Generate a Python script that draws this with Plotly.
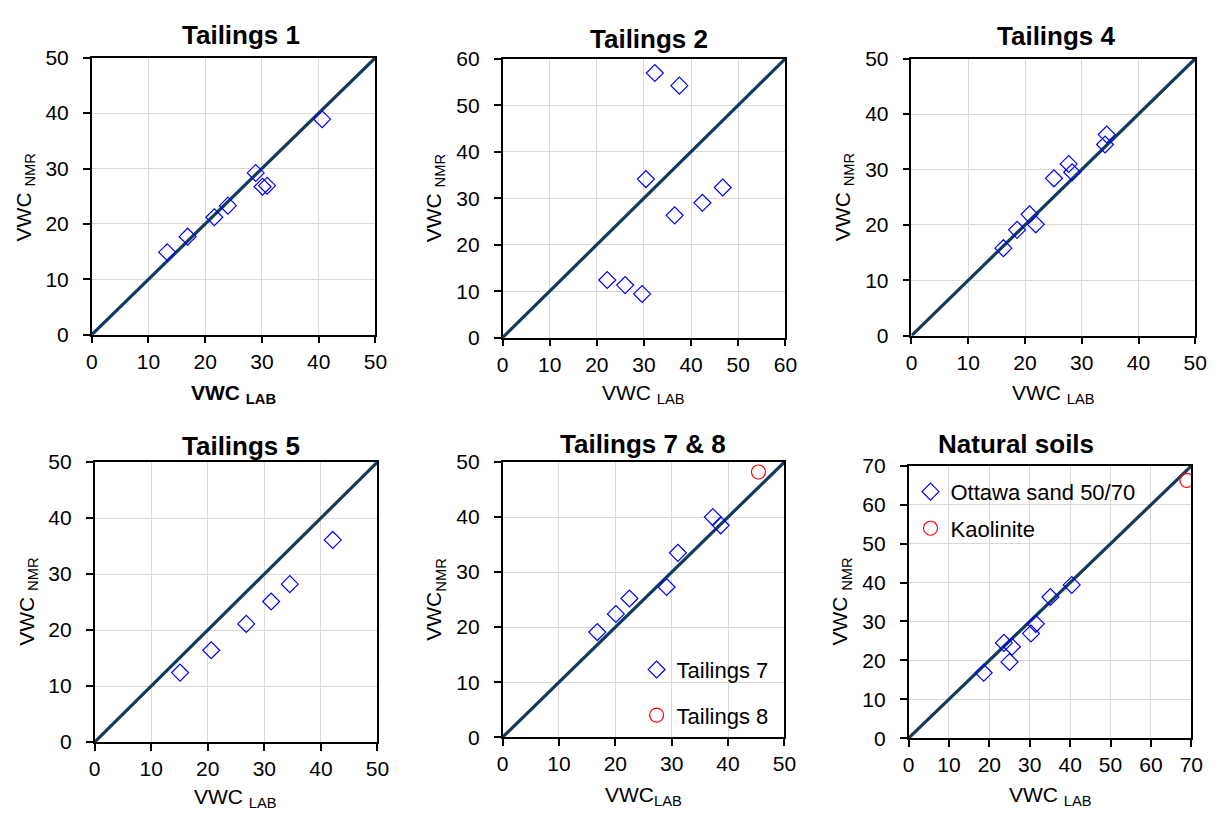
import plotly.graph_objects as go

# ---------------- data ----------------
t1_lab = [13.3, 16.9, 21.6, 24.0, 28.9, 30.1, 30.9, 40.6]
t1_nmr = [14.9, 17.7, 21.2, 23.3, 29.2, 26.7, 26.9, 38.9]

t2_lab = [22.2, 26.0, 29.6, 30.4, 32.3, 36.5, 37.5, 42.4, 46.7]
t2_nmr = [12.4, 11.3, 9.4, 34.1, 56.9, 26.3, 54.2, 29.0, 32.3]

t4_lab = [16.2, 18.6, 20.8, 21.9, 25.1, 27.7, 28.3, 34.1, 34.4]
t4_nmr = [15.8, 19.1, 21.9, 20.1, 28.4, 31.0, 29.5, 34.5, 36.3]

t5_lab = [15.1, 20.6, 26.8, 31.2, 34.5, 42.1]
t5_nmr = [12.4, 16.4, 21.1, 25.1, 28.2, 36.1]

t7_lab = [16.8, 20.1, 22.5, 29.1, 31.1, 37.3, 38.7]
t7_nmr = [19.1, 22.4, 25.2, 27.3, 33.5, 40.0, 38.5]
t8_lab = [45.4]
t8_nmr = [48.2]

ottawa_lab = [18.6, 23.6, 25.0, 25.6, 30.3, 31.5, 35.1, 40.4]
ottawa_nmr = [16.8, 24.5, 19.6, 23.5, 26.9, 29.4, 36.3, 39.4]
kaolinite_lab = [68.9]
kaolinite_nmr = [66.3]

panel_titles = ["Tailings 1", "Tailings 2", "Tailings 4", "Tailings 5", "Tailings 7 & 8", "Natural soils"]
axis_max = [50, 60, 50, 50, 50, 70]

# ---------------- layout geometry (pixels) ----------------
W, H = 1225, 824
boxes = [  # left, right, top, bottom
    (87, 375, 47, 332),
    (504, 791, 48, 335),
    (919, 1207, 48, 333),
    (90, 377, 463, 751),
    (504, 790, 463, 746),
    (916, 1203, 467, 747),
]
title_pos = [(238, 24), (653, 28), (1066, 25), (238, 446), (646, 444), (1025, 444)]
xtitle_pos = [(231, 393), (647, 393), (1063, 393), (233, 809), (647, 807), (1060, 807)]
ytitle_pos = [(19, 191), (435, 192), (850, 191), (22, 607), (436, 605), (848, 607)]
xtitle_txt = ["<b>VWC <sub>LAB</sub></b>", "VWC <sub>LAB</sub>", "VWC <sub>LAB</sub>",
              "VWC <sub>LAB</sub>", "VWC<sub>LAB</sub>", "VWC <sub>LAB</sub>"]
ytitle_txt = ["VWC <sub>NMR</sub>", "VWC <sub>NMR</sub>", "VWC <sub>NMR</sub>",
              "VWC <sub>NMR</sub>", "VWC<sub>NMR</sub>", "VWC <sub>NMR</sub>"]

FONT = "Liberation Sans, Arial, sans-serif"
LINE_COLOR = "#113a5c"
BLUE = "#0000ff"
RED = "#ff0000"

fig = go.Figure()

series = [
    [(t1_lab, t1_nmr, None, "diamond")],
    [(t2_lab, t2_nmr, None, "diamond")],
    [(t4_lab, t4_nmr, None, "diamond")],
    [(t5_lab, t5_nmr, None, "diamond")],
    [(t7_lab, t7_nmr, "Tailings 7", "diamond"), (t8_lab, t8_nmr, "Tailings 8", "circle")],
    [(ottawa_lab, ottawa_nmr, "Ottawa sand 50/70", "diamond"), (kaolinite_lab, kaolinite_nmr, "Kaolinite", "circle")],
]

annotations = []
for i in range(6):
    n = "" if i == 0 else str(i + 1)
    xa, ya = "x" + n, "y" + n
    m = axis_max[i]
    # 1:1 line
    fig.add_trace(go.Scatter(x=[0, m], y=[0, m], mode="lines", xaxis=xa, yaxis=ya,
                             line=dict(color=LINE_COLOR, width=3.2), showlegend=False,
                             hoverinfo="skip"))
    for (xs, ys, name, sym) in series[i]:
        if sym == "diamond":
            mk = dict(symbol="diamond-open", size=13, color=BLUE, line=dict(width=1.2, color=BLUE))
        else:
            mk = dict(symbol="circle-open", size=14, color=RED, line=dict(width=1.2, color=RED))
        legend = "legend" if i == 4 else "legend2"
        fig.add_trace(go.Scatter(x=xs, y=ys, mode="markers", xaxis=xa, yaxis=ya,
                                 marker=mk, name=name or "",
                                 showlegend=name is not None,
                                 legend=legend, legendgroup=name or "g"))
    l, r, t, b = boxes[i]
    axcommon = dict(range=[0, m], dtick=10, tick0=0, showgrid=True, gridcolor="#d9d9d9",
                    gridwidth=1, zeroline=False, showline=True, linecolor="black",
                    linewidth=1.5, mirror=True, ticks="outside", ticklen=7,
                    tickcolor="black", tickwidth=1.5,
                    tickfont=dict(family=FONT, size=21, color="black"), fixedrange=True)
    fig.update_layout(**{
        "xaxis" + n: dict(domain=[l / W, r / W], anchor=ya, **axcommon),
        "yaxis" + n: dict(domain=[1 - b / H, 1 - t / H], anchor=xa, ticklabelstandoff=10, **axcommon),
    })
    tx, ty = title_pos[i]
    annotations.append(dict(text="<b>" + panel_titles[i] + "</b>", x=tx / W, y=1 - ty / H,
                            xref="paper", yref="paper", xanchor="center", yanchor="middle",
                            showarrow=False, font=dict(family=FONT, size=26, color="black")))
    xx, xy = xtitle_pos[i]
    annotations.append(dict(text=xtitle_txt[i], x=xx / W, y=1 - xy / H,
                            xref="paper", yref="paper", xanchor="center", yanchor="middle",
                            showarrow=False, font=dict(family=FONT, size=21, color="black")))
    yx, yy = ytitle_pos[i]
    annotations.append(dict(text=ytitle_txt[i], x=yx / W, y=1 - yy / H, textangle=-90,
                            xref="paper", yref="paper", xanchor="center", yanchor="middle",
                            showarrow=False, font=dict(family=FONT, size=21, color="black")))

fig.update_layout(
    width=W, height=H,
    margin=dict(l=0, r=0, t=0, b=0),
    paper_bgcolor="white", plot_bgcolor="white",
    font=dict(family=FONT, size=21, color="black"),
    annotations=annotations,
    legend=dict(x=640 / W, y=1 - 655 / H, xanchor="left", yanchor="top",
                bgcolor="rgba(0,0,0,0)", borderwidth=0, traceorder="grouped",
                tracegroupgap=14, font=dict(family=FONT, size=22, color="black")),
    legend2=dict(x=918 / W, y=1 - 472 / H, xanchor="left", yanchor="top",
                 bgcolor="rgba(0,0,0,0)", borderwidth=0, traceorder="grouped",
                 tracegroupgap=5, font=dict(family=FONT, size=22, color="black")),
)

fig.write_html("out.html")
